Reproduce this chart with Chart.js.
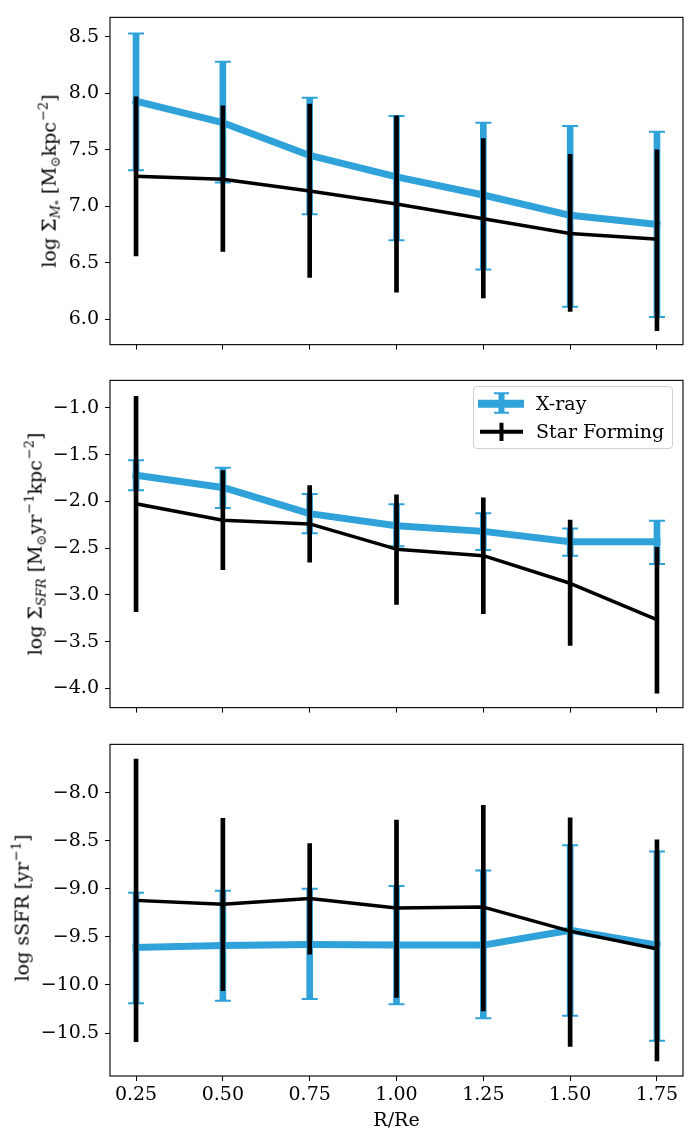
<!DOCTYPE html>
<html><head><meta charset="utf-8">
<script src="https://cdn.jsdelivr.net/npm/chart.js@4.4.1/dist/chart.umd.min.js"></script>
<style>
html,body{margin:0;padding:0;background:#fff;}
body{width:697px;height:1129px;position:relative;overflow:hidden;font-family:"DejaVu Serif",serif;color:#000;}
.panel{position:absolute;left:0;width:697px;}
.ytitle{position:absolute;white-space:nowrap;font-size:19px;line-height:1.2;transform:translate(-50%,-50%) rotate(-90deg);}
.ytitle sub{font-size:13px;vertical-align:-4px;line-height:0;}
.ytitle sup{font-size:13px;vertical-align:8px;line-height:0;margin-left:1px;}
.ytitle sub sub{font-size:10px;vertical-align:-2px;}
#legend{position:absolute;left:473px;top:386px;width:200px;height:63px;box-sizing:border-box;border:1px solid #cfcfcf;border-radius:4px;background:rgba(255,255,255,0.8);}
#legend canvas{position:absolute;left:0;top:0;}
#legend .lt{position:absolute;left:62px;font-size:19px;line-height:22px;white-space:nowrap;}
</style></head><body>
<div class="panel" style="top:0;height:362px"><canvas id="c1"></canvas></div>
<div class="panel" style="top:363px;height:362px"><canvas id="c2"></canvas></div>
<div class="panel" style="top:727px;height:405px"><canvas id="c3"></canvas></div>

<div class="ytitle" style="left:49px;top:181px">log Σ<sub><i>M</i><sub>*</sub></sub> [M<sub>⊙</sub>kpc<sup>−2</sup>]</div>
<div class="ytitle" style="left:35px;top:544px">log Σ<sub><i>SFR</i></sub> [M<sub>⊙</sub>yr<sup>−1</sup>kpc<sup>−2</sup>]</div>
<div class="ytitle" style="left:22px;top:908px">log sSFR [yr<sup>−1</sup>]</div>

<div id="legend"><canvas id="lg" width="200" height="63"></canvas>
<div class="lt" style="top:5px">X-ray</div>
<div class="lt" style="top:33px">Star Forming</div></div>

<script>
// ---------------- data ----------------
const radii = [0.25, 0.50, 0.75, 1.00, 1.25, 1.50, 1.75];
const xTickValues = [0.25, 0.50, 0.75, 1.00, 1.25, 1.50, 1.75];
const seriesNames = ['X-ray', 'Star Forming'];
const xAxisTitle = 'R/Re';

// Panel 1: log Sigma_M*
const xrayMass   = [7.93, 7.74, 7.45, 7.26, 7.10, 6.92, 6.84];
const xrayMassLo = [7.32, 7.21, 6.93, 6.70, 6.44, 6.11, 6.02];
const xrayMassHi = [8.53, 8.28, 7.96, 7.80, 7.74, 7.71, 7.66];
const sfMass     = [7.265, 7.24, 7.135, 7.02, 6.89, 6.76, 6.71];
const sfMassLo   = [6.56, 6.60, 6.37, 6.24, 6.19, 6.07, 5.90];
const sfMassHi   = [7.97, 7.89, 7.905, 7.80, 7.60, 7.46, 7.50];
const yTicksMass = [6.0, 6.5, 7.0, 7.5, 8.0, 8.5];

// Panel 2: log Sigma_SFR
const xraySfr   = [-1.72, -1.85, -2.13, -2.26, -2.32, -2.43, -2.43];
const xraySfrLo = [-1.88, -2.07, -2.34, -2.48, -2.52, -2.58, -2.67];
const xraySfrHi = [-1.56, -1.64, -1.92, -2.03, -2.125, -2.29, -2.205];
const sfSfr     = [-2.025, -2.20, -2.24, -2.51, -2.58, -2.875, -3.265];
const sfSfrLo   = [-3.18, -2.73, -2.65, -3.10, -3.20, -3.54, -4.05];
const sfSfrHi   = [-0.875, -1.67, -1.83, -1.93, -1.96, -2.20, -2.49];
const yTicksSfr = [-4.0, -3.5, -3.0, -2.5, -2.0, -1.5, -1.0];

// Panel 3: log sSFR
const xraySsfr   = [-9.61, -9.59, -9.58, -9.585, -9.585, -9.43, -9.585];
const xraySsfrLo = [-10.19, -10.165, -10.145, -10.20, -10.345, -10.32, -10.58];
const xraySsfrHi = [-9.04, -9.02, -9.00, -8.97, -8.81, -8.545, -8.61];
const sfSsfr     = [-9.12, -9.16, -9.10, -9.20, -9.19, -9.44, -9.625];
const sfSsfrLo   = [-10.59, -10.06, -9.68, -10.13, -10.27, -10.64, -10.79];
const sfSsfrHi   = [-7.65, -8.265, -8.53, -8.285, -8.13, -8.26, -8.49];
const yTicksSsfr = [-10.5, -10.0, -9.5, -9.0, -8.5, -8.0];

// ---------------- style ----------------
const BLUE = '#30a2da';
const BLACK = '#000000';
const FONT = {family: "'DejaVu Serif', serif", size: 19};
Chart.defaults.color = '#000';
Chart.defaults.font.family = FONT.family;

const framePlugin = {
  id: 'frame',
  afterDraw(chart) {
    const a = chart.chartArea, c = chart.ctx;
    c.save();
    c.strokeStyle = '#111';
    c.lineWidth = 1.2;
    c.strokeRect(a.left, a.top, a.right - a.left, a.bottom - a.top);
    c.restore();
  }
};

function fmtY(v) { return (v < 0 ? '\u2212' : '') + Math.abs(v).toFixed(1); }

function makePanel(id, p) {
  const pts = (arr) => radii.map((x, i) => ({x, y: arr[i]}));
  const bars = (lo, hi) => radii.map((x, i) => ({x, y: [lo[i], hi[i]]}));
  const datasets = [
    {type: 'bar', data: bars(p.xLo, p.xHi), backgroundColor: BLUE, borderWidth: 0,
     barThickness: 6, grouped: false, order: 5},
    {type: 'line', label: seriesNames[0], data: pts(p.x), borderColor: BLUE, borderWidth: 7,
     pointRadius: 0, tension: 0, borderCapStyle: 'square', borderJoinStyle: 'round', fill: false, order: 4},
    {type: 'scatter', data: pts(p.xLo).concat(pts(p.xHi)), pointStyle: 'line', pointRadius: 8,
     pointBorderColor: BLUE, borderColor: BLUE, pointBorderWidth: 2, showLine: false, order: 3},
    {type: 'bar', data: bars(p.sLo, p.sHi), backgroundColor: BLACK, borderWidth: 0,
     barThickness: 4, grouped: false, order: 2},
    {type: 'line', label: seriesNames[1], data: pts(p.s), borderColor: BLACK, borderWidth: 3.5,
     pointRadius: 0, tension: 0, borderCapStyle: 'square', borderJoinStyle: 'round', fill: false, order: 1}
  ];
  return new Chart(document.getElementById(id), {
    type: 'scatter',
    data: {datasets},
    options: {
      responsive: true, maintainAspectRatio: false, animation: false, events: [],
      devicePixelRatio: 1,
      layout: {padding: {top: 13, right: 14, left: 0, bottom: 0}},
      plugins: {legend: {display: false}, tooltip: {enabled: false}},
      scales: {
        x: {
          type: 'linear', min: 0.175, max: 1.825, offset: false,
          grid: {display: true, drawOnChartArea: false, drawTicks: true, tickLength: 5,
                 tickColor: '#000', tickWidth: 1, offset: false},
          border: {display: false},
          ticks: {display: p.showX, font: FONT, color: '#000', padding: 3, maxRotation: 0,
                  autoSkip: false, callback: v => v.toFixed(2)},
          afterBuildTicks: s => { s.ticks = xTickValues.map(v => ({value: v})); },
          afterFit: s => { s.height = p.xH; },
          title: {display: p.showX, text: xAxisTitle, font: FONT, color: '#000', padding: {top: 0, bottom: 0}}
        },
        y: {
          type: 'linear', min: p.yMin, max: p.yMax,
          grid: {display: true, drawOnChartArea: false, drawTicks: true, tickLength: 5,
                 tickColor: '#000', tickWidth: 1},
          border: {display: false},
          ticks: {font: FONT, color: '#000', padding: 6, callback: v => fmtY(v)},
          afterBuildTicks: s => { s.ticks = p.yTicks.map(v => ({value: v})); },
          afterFit: s => { s.width = 110; }
        }
      }
    },
    plugins: [framePlugin]
  });
}

makePanel('c1', {x: xrayMass, xLo: xrayMassLo, xHi: xrayMassHi, s: sfMass, sLo: sfMassLo, sHi: sfMassHi,
  yTicks: yTicksMass, yMin: 5.776, yMax: 8.672, showX: false, xH: 13});
makePanel('c2', {x: xraySfr, xLo: xraySfrLo, xHi: xraySfrHi, s: sfSfr, sLo: sfSfrLo, sHi: sfSfrHi,
  yTicks: yTicksSfr, yMin: -4.205, yMax: -0.705, showX: false, xH: 13});
makePanel('c3', {x: xraySsfr, xLo: xraySsfrLo, xHi: xraySsfrHi, s: sfSsfr, sLo: sfSsfrLo, sHi: sfSsfrHi,
  yTicks: yTicksSsfr, yMin: -10.947, yMax: -7.497, showX: true, xH: 56});

// legend handles
(function () {
  const c = document.getElementById('lg').getContext('2d');
  c.lineCap = 'butt';
  c.strokeStyle = BLUE;
  c.lineWidth = 8; c.beginPath(); c.moveTo(4, 16.7); c.lineTo(50, 16.7); c.stroke();
  c.lineWidth = 6; c.beginPath(); c.moveTo(27.5, 6.3); c.lineTo(27.5, 25.7); c.stroke();
  c.lineWidth = 2; c.beginPath(); c.moveTo(20, 6.3); c.lineTo(35, 6.3); c.moveTo(20, 25.7); c.lineTo(35, 25.7); c.stroke();
  c.strokeStyle = BLACK;
  c.lineWidth = 4; c.beginPath(); c.moveTo(6, 44.7); c.lineTo(49, 44.7); c.stroke();
  c.beginPath(); c.moveTo(27.5, 35.7); c.lineTo(27.5, 54); c.stroke();
})();
</script>
</body></html>
